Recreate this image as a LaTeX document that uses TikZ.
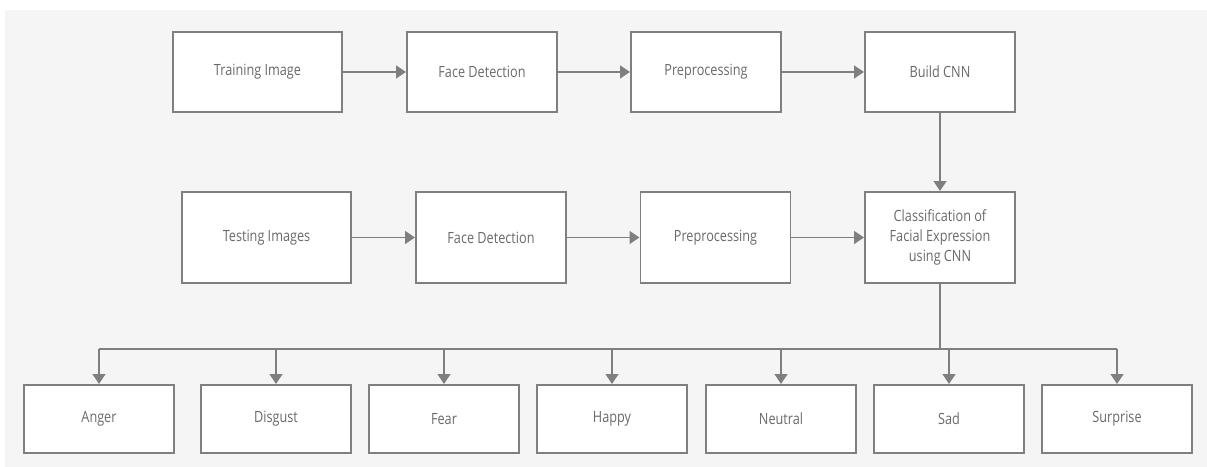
\documentclass[tikz,border=0pt]{standalone}
\usepackage{fontspec}
\setmainfont{Open Sans}[FakeStretch=0.82]
\usepackage{xcolor}
\usetikzlibrary{arrows.meta}
\usetikzlibrary{positioning}
\definecolor{linegray}{HTML}{7F7F7F}
\definecolor{textgray}{HTML}{6A6A6A}
\definecolor{bggray}{HTML}{F5F5F5}

\begin{document}
\begin{tikzpicture}[scale=1.0,
	box/.style={draw=linegray, line width=1.4pt, fill=white, text=textgray, font=\fontsize{11}{14.5}\selectfont, align=center, inner sep=0pt},
	wide/.style={box, minimum width=4.225cm},
	narrow/.style={box, minimum width=3.75cm},
	link/.style={draw=linegray, line width=1.4pt, -{Triangle[length=0.25cm,width=0.32cm]}},
	wire/.style={draw=linegray, line width=1.4pt}]
			\useasboundingbox (0,0) rectangle (30.175,11.675);
			\fill[bggray] (0.125,0) rectangle (30.175,11.425);
			
			% training
			\node[wide, minimum height=2cm] (trainimg) at (6.4375,9.875) {Training Image};
			\node[narrow, minimum height=2cm] (trainface) at (12.05,9.875) {Face Detection};
			\node[narrow, minimum height=2cm] (trainprep) at (17.65,9.875) {Preprocessing};
			\node[narrow, minimum height=2cm] (buildcnn) at (23.5,9.875) {Build CNN};
			
			% testing
			\node[wide, minimum height=2.275cm] (testimg) at (6.6625,5.7375) {Testing Images};
			\node[narrow, minimum height=2.275cm] (testface) at (12.275,5.7375) {Face Detection};
			\node[narrow, minimum height=2.275cm] (testprep) at (17.8875,5.7375) {Preprocessing};
			\node[narrow, minimum height=2.275cm] (classify) at (23.5,5.7375) {Classification of\\Facial Expression\\using CNN};
			
			% expressions
			\foreach \name/\xpos/\txt in {anger/2.475/Anger, disgust/6.9/Disgust, fear/11.1/Fear, happy/15.3/Happy, neutral/19.525/Neutral, sad/23.725/Sad, surprise/27.925/Surprise}
				\node[narrow, minimum height=1.7cm] (\name) at (\xpos,1.2) {\txt};
			
			\draw[link] (trainimg) -- (trainface);
			\draw[link] (trainface) -- (trainprep);
			\draw[link] (trainprep) -- (buildcnn);
			\draw[link] (buildcnn) -- (classify);
			
			\draw[link] (testimg) -- (testface);
			\draw[link] (testface) -- (testprep);
			\draw[link] (testprep) -- (classify);
			
			\coordinate (split) at (23.5,2.95);
			\draw[wire] (classify) -- (split);
			\draw[wire] (anger |- split) -- (surprise |- split);
			\foreach \name in {anger,disgust,fear,happy,neutral,sad,surprise}
				\draw[link] (\name |- split) -- (\name);
		\end{tikzpicture}
\end{document}
